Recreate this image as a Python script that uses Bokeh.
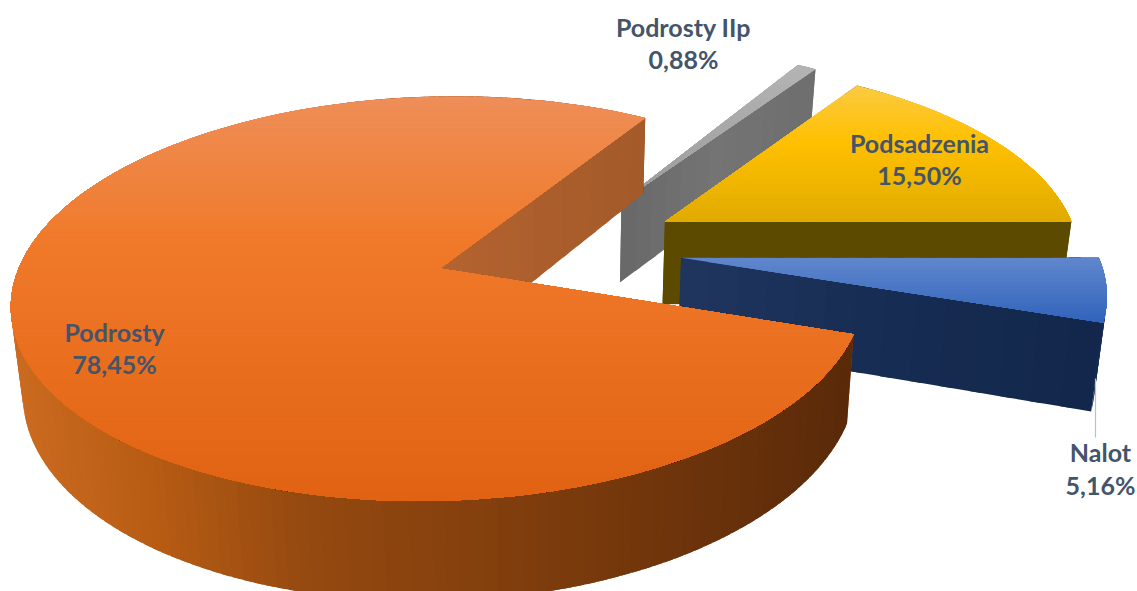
import math
from bokeh.plotting import figure
from bokeh.models import ColumnDataSource, Range1d
from bokeh.core.properties import value
from bokeh.embed import file_html
from bokeh.resources import INLINE

# ---- data ----
categories = ["Podrosty", "Podrosty IIp", "Podsadzenia", "Nalot"]
shares = [78.45, 0.88, 15.50, 5.16]
share_labels = ["78,45%", "0,88%", "15,50%", "5,16%"]

# ---- styling / layout ----
W, H = 1137, 591
START_ANGLE = 108.5        # first slice starts here, clockwise from "far"
EXPLODE = [0.295, 0.302, 0.302, 0.302]
CX, CY, RX, RY, K, DEPTH, TAPER = 556, 248, 415, 192, 0.147, 84, 0.022
top_stops = [
    [(0.0, "#ee8e58"), (0.35, "#f07a2a"), (1.0, "#e06212")],
    [(0.0, "#b4b4b4"), (1.0, "#9a9a9a")],
    [(0.0, "#fbca40"), (0.4, "#ffc000"), (1.0, "#dfaa00")],
    [(0.0, "#5f86cc"), (1.0, "#2f62bb")],
]
rim_stops = [
    [(12, "#cb6b20"), (150, "#b85c14"), (300, "#964a10"), (550, "#7c3b0c"), (850, "#5a2a09")],
    [(620, "#6a6a6a"), (820, "#777777")],
    [(660, "#5c4a00"), (1075, "#5c4a00")],
    [(680, "#1f3560"), (1105, "#152a50")],
]
cut_stops = [
    [(441, "#b3632f"), (645, "#a45a2a")],
    [(620, "#686868"), (720, "#747474"), (820, "#6e6e6e")],
    [(660, "#5c4a00"), (1075, "#5c4a00")],
    [(680, "#20365f"), (900, "#172c52"), (1105, "#13274c")],
]
draw_order = [1, 2, 3, 0]
label_pos = [(114, 331, 363), (683, 26, 58), (919, 142, 174), (1100, 451, 484)]
TEXT_COLOR = "#44546a"
FONT = "Lato"
FONT_SIZE = "25px"


def project(x, y, z=0.0):
    w = 1 + K * y
    px = CX + RX * x / w
    py = CY - RY * y / w + DEPTH * z / w
    px = CX + (px - CX) * (1 - TAPER * z)
    return px, py


def hex2rgb(h):
    return [int(h[i:i + 2], 16) for i in (1, 3, 5)]


def interp(stops, t):
    if t <= stops[0][0]:
        return stops[0][1]
    for (a, ca), (b, cb) in zip(stops, stops[1:]):
        if t <= b:
            f = (t - a) / (b - a)
            c = [round(u + (v - u) * f) for u, v in zip(hex2rgb(ca), hex2rgb(cb))]
            return "#%02x%02x%02x" % tuple(c)
    return stops[-1][1]


def clip_below(poly, yc):
    out = []
    n = len(poly)
    for i in range(n):
        a, b = poly[i], poly[(i + 1) % n]
        ia, ib = a[1] >= yc, b[1] >= yc
        if ia:
            out.append(a)
        if ia != ib:
            f = (yc - a[1]) / (b[1] - a[1])
            out.append((a[0] + (b[0] - a[0]) * f, yc))
    return out


xs, ys, fills = [], [], []


def add(poly, col):
    xs.append([q[0] for q in poly])
    ys.append([q[1] for q in poly])
    fills.append(col)


# ---- slice geometry derived from the shares ----
total = sum(shares)
spans = []
a = START_ANGLE
for s in shares:
    d = 360 * s / total
    spans.append((a, a + d))
    a += d

for idx in draw_order:
    a0, a1 = spans[idx]
    mid = math.radians((a0 + a1) / 2)
    ox, oy = EXPLODE[idx] * math.sin(mid), EXPLODE[idx] * math.cos(mid)
    n = max(4, int((a1 - a0) / 1.5))
    step = (a1 - a0) / n

    def rim_point(ang):
        ang = min(max(ang, a0), a1)
        return ox + math.sin(math.radians(ang)), oy + math.cos(math.radians(ang))

    world = [rim_point(a0 + step * i) for i in range(n + 1)]

    # walls, far ones first; neighbouring strips overlap so that no seams show
    walls = []
    for i in range(n):
        p0 = rim_point(a0 + step * (i - 0.4))
        q0 = rim_point(a0 + step * (i + 1.4))
        walls.append(((p0[1] + q0[1]) / 2, p0, q0, False))
    for end in (world[0], world[-1]):
        walls.append(((end[1] + oy) / 2, (ox, oy), end, True))
    walls.sort(key=lambda r: -r[0])
    for _, p0, q0, is_cut in walls:
        if is_cut:
            m = 14
            for j in range(m):
                f0, f1 = j / m, min((j + 1.4) / m, 1)
                pa = (p0[0] + (q0[0] - p0[0]) * f0, p0[1] + (q0[1] - p0[1]) * f0)
                pb = (p0[0] + (q0[0] - p0[0]) * f1, p0[1] + (q0[1] - p0[1]) * f1)
                quad = [project(*pa), project(*pb), project(*pb, 1), project(*pa, 1)]
                add(quad, interp(cut_stops[idx], (quad[0][0] + quad[1][0]) / 2))
        else:
            quad = [project(*p0), project(*q0), project(*q0, 1), project(*p0, 1)]
            add(quad, interp(rim_stops[idx], (quad[0][0] + quad[1][0]) / 2))

    # top face with a vertical gradient: painted from the top band down
    poly = [project(ox, oy)] + [project(*w) for w in world]
    ymin = min(q[1] for q in poly)
    ymax = max(q[1] for q in poly)
    bands = max(12, int((ymax - ymin) / 4))
    for b in range(bands):
        yc = ymin + (ymax - ymin) * b / bands
        clipped = clip_below(poly, yc)
        if len(clipped) >= 3:
            add(clipped, interp(top_stops[idx], b / bands))

# ---- figure, with data space equal to pixels of the picture ----
p = figure(width=W, height=H, output_backend="svg", toolbar_location=None,
           x_range=Range1d(0, W), y_range=Range1d(H, 0),
           min_border=0, outline_line_color=None, background_fill_color="white",
           border_fill_color="white")
p.axis.visible = False
p.grid.visible = False

src = ColumnDataSource(dict(xs=xs, ys=ys, c=fills))
p.patches("xs", "ys", source=src, fill_color="c", line_color=None)

# leader line of the "Nalot" label
p.line([1095, 1095], [378, 437], line_color="#b4c1d4", line_width=1.2)

tx, ty, tt = [], [], []
for name, lab, (x, y1, y2) in zip(categories, share_labels, label_pos):
    tx += [x, x]
    ty += [y1, y2]
    tt += [name, lab]
p.text(tx, ty, text=tt, text_font=value(FONT), text_font_style="bold",
       text_font_size=FONT_SIZE, text_color=TEXT_COLOR,
       text_align="center", text_baseline="middle")

open("out.html", "w").write(file_html(p, INLINE))
